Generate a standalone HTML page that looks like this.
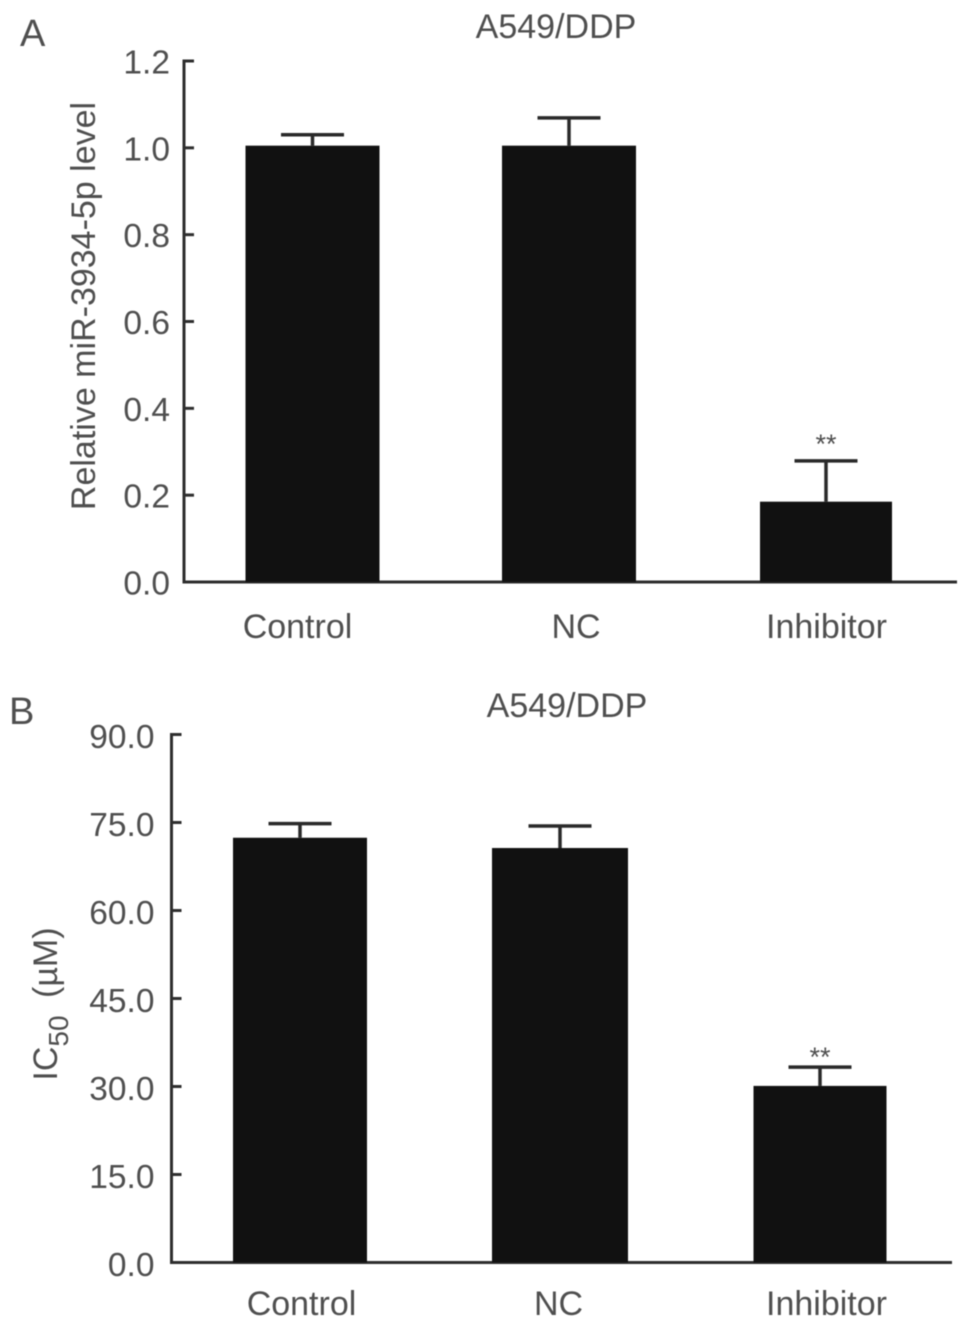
<!DOCTYPE html>
<html>
<head>
<meta charset="utf-8">
<style>
html,body{margin:0;padding:0;background:#fff;}
svg{display:block;filter:blur(0.5px);}
text{font-family:"Liberation Sans",sans-serif;fill:#4f4f4f;}
</style>
</head>
<body>
<svg id="chart" width="969" height="1328" viewBox="0 0 969 1328" xmlns="http://www.w3.org/2000/svg">
<text x="20" y="46" font-size="38">A</text>
<text x="556" y="38" font-size="34" text-anchor="middle">A549/DDP</text>
<text transform="translate(95,306) rotate(-90)" font-size="34" text-anchor="middle">Relative miR-3934-5p level</text>
<text x="9" y="724" font-size="38">B</text>
<text x="567" y="717" font-size="34" text-anchor="middle">A549/DDP</text>
<text transform="translate(57,1004) rotate(-90)" font-size="34" text-anchor="middle">IC<tspan font-size="28" dy="11">50</tspan><tspan dy="-11" dx="8"> (µM)</tspan></text>
<g id="panelA"></g>
<g id="panelB"></g>
</svg>
<script>
const categories = ['Control', 'NC', 'Inhibitor'];
const valuesA = [1.005, 1.005, 0.185];
const errorsA = [0.025, 0.064, 0.094];
const ticksA = ['0.0', '0.2', '0.4', '0.6', '0.8', '1.0', '1.2'];
const sigA = ['', '', '**'];
const valuesB = [72.4, 70.65, 30.1];
const errorsB = [2.4, 3.75, 3.2];
const ticksB = ['0.0', '15.0', '30.0', '45.0', '60.0', '75.0', '90.0'];
const sigB = ['', '', '**'];

const NS = 'http://www.w3.org/2000/svg';
function make(parent, tag, attrs, txt) {
  const el = document.createElementNS(NS, tag);
  for (const k in attrs) el.setAttribute(k, attrs[k]);
  if (txt !== undefined) el.textContent = txt;
  parent.appendChild(el);
  return el;
}
function drawPanel(cfg) {
  const g = document.getElementById(cfg.id);
  const maxTick = parseFloat(cfg.ticks[cfg.ticks.length - 1]);
  const y = v => cfg.y0 + (cfg.yTop - cfg.y0) * v / maxTick;
  const axisCol = '#2e2e2e';
  const yAxis = make(g, 'line', {x1: cfg.axisX, x2: cfg.axisX, y1: cfg.yTop - 1.5, y2: cfg.y0 + 1.5, stroke: axisCol, 'stroke-width': 3});
  
  
  const xAxis = make(g, 'line', {x1: cfg.axisX, x2: cfg.xEnd, y1: cfg.y0, y2: cfg.y0, stroke: axisCol, 'stroke-width': 3});
  
  
  cfg.ticks.forEach(t => {
    const v = parseFloat(t);
    const tick = make(g, 'line', {x1: cfg.axisX, x2: cfg.axisX + 10, y1: y(v), y2: y(v), stroke: axisCol, 'stroke-width': 3});
    
    
    const label = make(g, 'text', {x: cfg.axisX - cfg.labelGap, y: y(v) + cfg.labelDrop, 'font-size': 33.5, 'text-anchor': 'end'}, t);
    
    
  });
  categories.forEach((c, i) => {
    const v = cfg.values[i];
    const e = cfg.errors[i];
    const cx = cfg.centers[i];
    const w = cfg.barW[i];
    const stem = make(g, 'line', {x1: cx, x2: cx, y1: y(v), y2: y(v + e), stroke: '#2a2a2a', 'stroke-width': 3.5});
    
    
    const cap = make(g, 'line', {x1: cx - cfg.capW / 2, x2: cx + cfg.capW / 2, y1: y(v + e), y2: y(v + e), stroke: '#2a2a2a', 'stroke-width': 3.5});
    
    
    const bar = make(g, 'rect', {x: cx - w / 2, y: y(v), width: w, height: cfg.y0 - y(v), fill: '#111111'});
    
    
    const lab = make(g, 'text', {x: cfg.labelX[i], y: cfg.labelY, 'font-size': 34, 'text-anchor': 'middle'}, c);
    
    
    if (cfg.sig[i]) {
      const s = make(g, 'text', {x: cx, y: y(v + e) - cfg.sigGap, 'font-size': 27, 'text-anchor': 'middle'}, cfg.sig[i]);
      
      
    }
  });
}
drawPanel({id: 'panelA', prefix: 'panel-a', values: valuesA, errors: errorsA, ticks: ticksA, sig: sigA,
  axisX: 184, xEnd: 957, y0: 582, yTop: 61, labelGap: 14, labelDrop: 12.5, sigGap: 8, centers: [312.5, 569, 826], barW: [134, 134, 132], capW: 63,
  labelX: [297.5, 576, 826.5], labelY: 638});
drawPanel({id: 'panelB', prefix: 'panel-b', values: valuesB, errors: errorsB, ticks: ticksB, sig: sigB,
  axisX: 171.5, xEnd: 952, y0: 1262.5, yTop: 734.5, labelGap: 17, labelDrop: 13.5, sigGap: 1, centers: [300, 560, 820], barW: [134, 136, 133], capW: 63,
  labelX: [301.5, 558.5, 826.5], labelY: 1315});
</script>
</body>
</html>
